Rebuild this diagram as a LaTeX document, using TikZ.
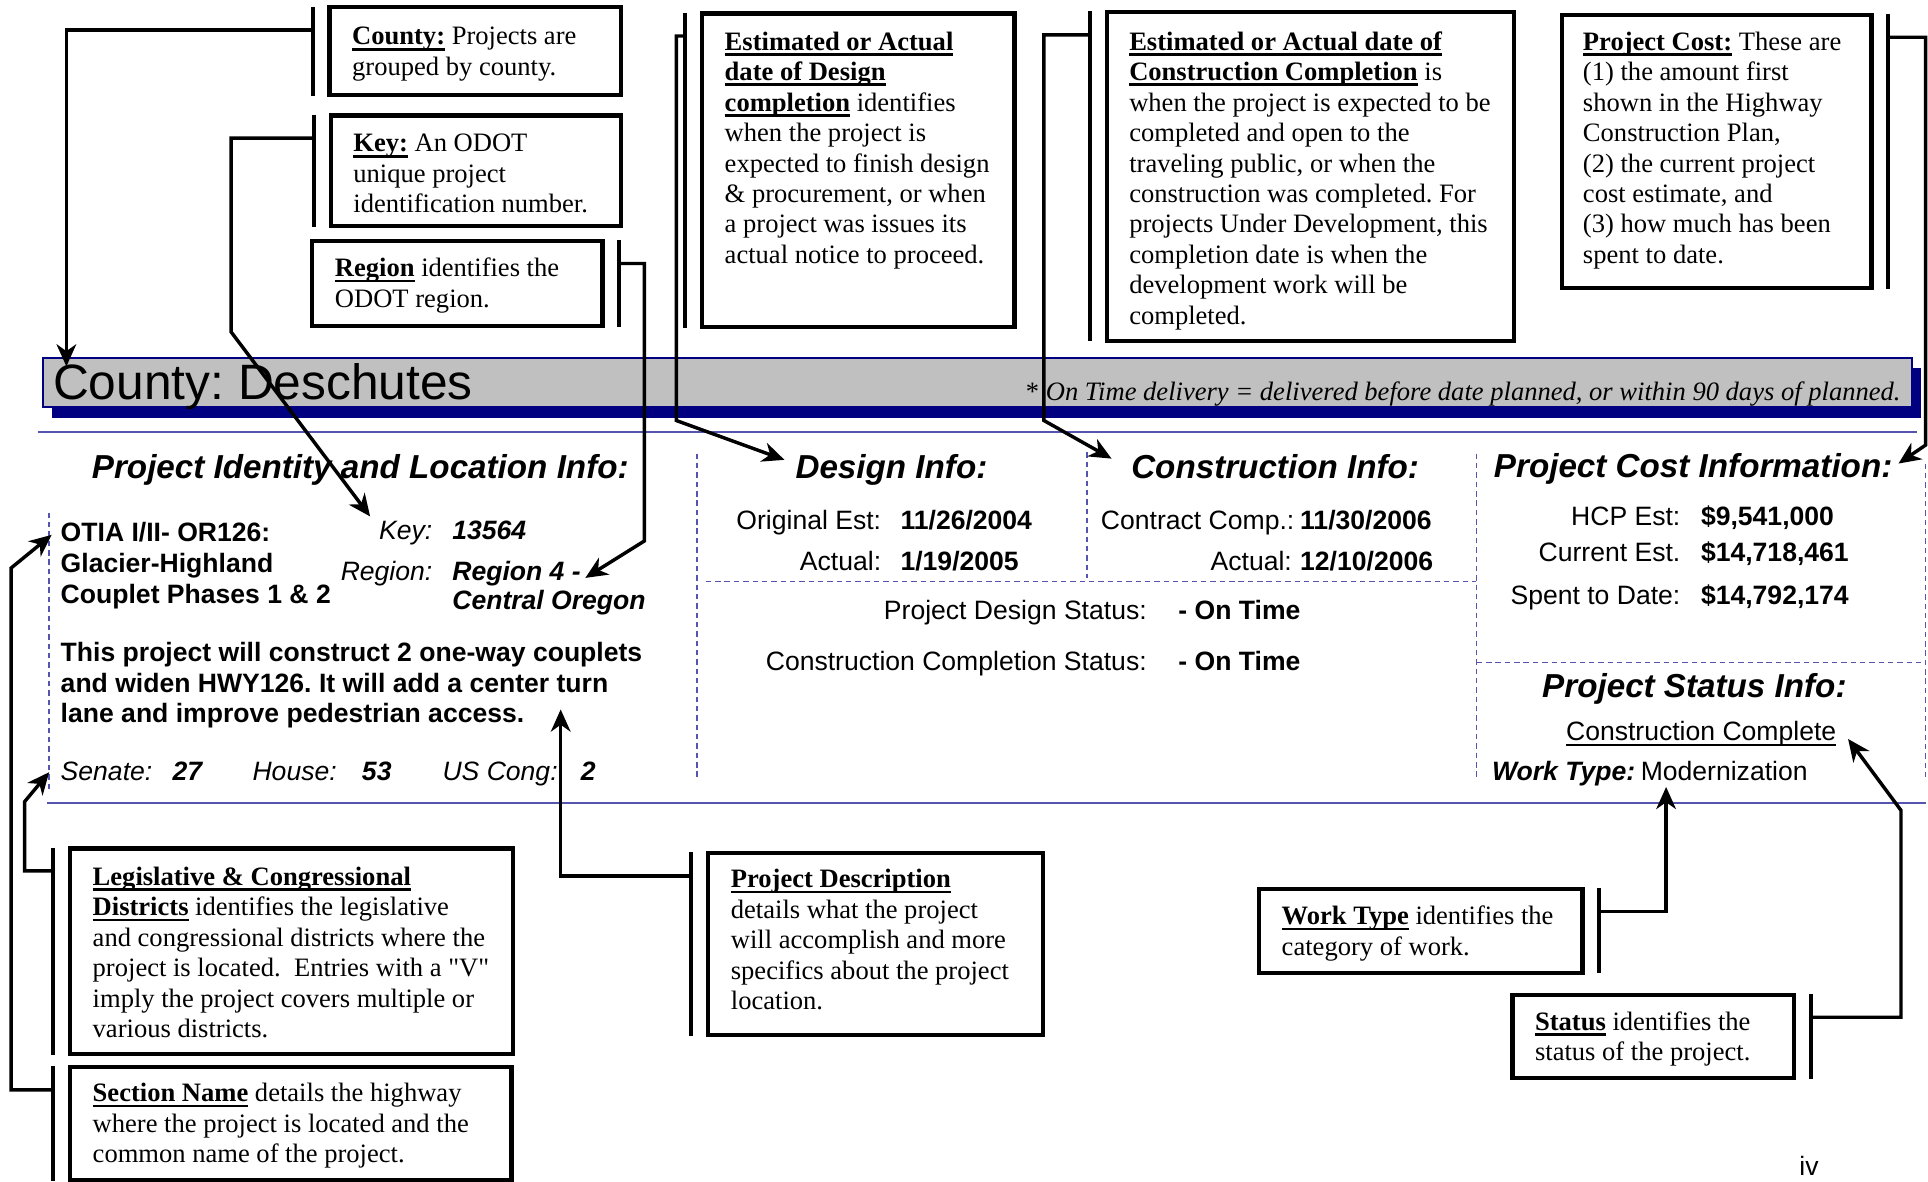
\documentclass[tikz,border=0pt]{standalone}
\usepackage{fontspec}
\setmainfont{Liberation Serif}
\setsansfont{Liberation Sans}
\newfontfamily\rawserif{Liberation Serif}
\usetikzlibrary{fit,arrows.meta}
\definecolor{navy}{RGB}{0,0,128}
\definecolor{bargray}{RGB}{192,192,192}
\definecolor{rulecol}{RGB}{85,85,175}
\newcommand{\bu}[1]{\leavevmode\setbox0=\hbox{\textbf{#1}}\rlap{\rule[-2.3pt]{\wd0}{1.1pt}}\box0\relax}
\newcommand{\thinul}[1]{\leavevmode\setbox0=\hbox{#1}\rlap{\rule[-2.2pt]{\wd0}{0.6pt}}\box0\relax}
\newcommand{\ml}[1]{\begin{tabular}[t]{@{}l@{}}#1\end{tabular}}
\newcommand{\fsz}{\fontsize{10.8}{12.4}\selectfont}
\frenchspacing
\begin{document}
\begin{tikzpicture}[x=0.5pt,y=-0.5pt,
  infobox/.style={draw, line width=1.7pt, inner sep=0pt},
  boxtext/.style={anchor=base west, inner sep=0pt, font=\fsz},
  brk/.style={line width=1.7pt},
  conn/.style={line width=1.4pt, line join=miter, -{Stealth[length=9pt,width=8pt,inset=2.8pt]}},
  sans/.style={inner sep=0pt, font=\sffamily\fontsize{10.8}{12.5}\selectfont},
  lab/.style={sans, anchor=base east},
  val/.style={sans, anchor=base west, font=\sffamily\bfseries\fontsize{10.8}{12.5}\selectfont},
  ilab/.style={sans, anchor=base west, font=\sffamily\itshape\fontsize{10.8}{12.5}\selectfont},
  ival/.style={sans, anchor=base west, font=\sffamily\bfseries\itshape\fontsize{10.8}{12}\selectfont},
  head/.style={inner sep=0pt, anchor=base, font=\sffamily\bfseries\itshape\fontsize{13.5}{16}\selectfont},
  dashline/.style={draw=rulecol, line width=0.6pt, dash pattern=on 2.2pt off 1.6pt}]
\useasboundingbox[fill=white] (0,0) rectangle (1568,961.3);

% ---------- county bar ----------
\node[fit={(42,299)(1562,340)}, fill=navy, inner sep=0pt] (barshadow) {};
\node[fit={(35,291)(1555,331)}, fill=bargray, draw=navy, line width=0.7pt, inner sep=0pt] (bar) {};
\node[anchor=base west, inner sep=0pt, font=\sffamily\fontsize{20.2}{24}\selectfont] (county) at (42.8,325) {County: Deschutes};
\node[anchor=base east, inner sep=0pt, font=\fsz] (ontime) at (1546,325.5) {* \textit{On Time delivery = delivered before date planned, or within 90 days of planned.}};

% ---------- rules ----------
\draw[draw=rulecol, line width=0.9pt] (31,351.5) -- (1559,351.5);
\draw[draw=rulecol, line width=0.9pt] (38,653) -- (1566,653);
\draw[dashline] (40,417) -- (40,642);
\draw[dashline] (567,369) -- (567,632);
\draw[dashline] (884,368) -- (884,470);
\draw[dashline] (574,473) -- (1200,473);
\draw[dashline] (1201,369) -- (1201,632);
\draw[dashline] (1201,539) -- (1566,539);
\draw[dashline] (1566,377) -- (1566,632);

% ---------- headings ----------
\node[head] (hident) at (293,389) {Project Identity and Location Info:};
\node[head] (hdesign) at (725,389) {Design Info:};
\node[head] (hconst) at (1037,389) {Construction Info:};
\node[head] (hcost) at (1377,388) {Project Cost Information:};
\node[head] (hstatus) at (1378,567) {Project Status Info:};

% ---------- identity ----------
\node[val] (secname) at (49,440.5) {\ml{OTIA I/II- OR126:\\Glacier-Highland\\Couplet Phases 1 \& 2}};
\node[sans, anchor=base east, font=\sffamily\itshape\fontsize{10.8}{12.5}\selectfont] (keylab) at (352,439) {Key:};
\node[ival] (keyval) at (367.5,439) {13564};
\node[sans, anchor=base east, font=\sffamily\itshape\fontsize{10.8}{12.5}\selectfont] (reglab) at (352,472) {Region:};
\node[ival] (regval) at (367.5,472) {\ml{Region 4 -\\Central Oregon}};
\node[val] (desc) at (49,538) {\ml{This project will construct 2 one-way couplets\\and widen HWY126. It will add a center turn\\lane and improve pedestrian access.}};
\node[ilab] (senlab) at (49,634.5) {Senate:};
\node[ival] (senval) at (140,634.5) {27};
\node[ilab] (houlab) at (205,634.5) {House:};
\node[ival] (houval) at (294,634.5) {53};
\node[ilab] (uslab) at (359.5,634.5) {US Cong:};
\node[ival] (usval) at (472,634.5) {2};

% ---------- design / construction ----------
\node[lab] (oelab) at (717,431) {Original Est:};
\node[val] (oeval) at (732,431) {11/26/2004};
\node[lab] (dalab) at (717,463.6) {Actual:};
\node[val] (daval) at (732,463.6) {1/19/2005};
\node[sans, anchor=base west] (cclab) at (895,431) {Contract Comp.:};
\node[val] (ccval) at (1057,431) {11/30/2006};
\node[lab] (calab) at (1051,463.6) {Actual:};
\node[val] (caval) at (1057,463.6) {12/10/2006};
\node[lab] (pdslab) at (933,504) {Project Design Status:};
\node[val] (pdsval) at (958,504) {- On Time};
\node[lab] (ccslab) at (933,545) {Construction Completion Status:};
\node[val] (ccsval) at (958,545) {- On Time};

% ---------- cost / status ----------
\node[lab] (hcplab) at (1367,427) {HCP Est:};
\node[val] (hcpval) at (1383,427) {\$9,541,000};
\node[lab] (curlab) at (1367,456.8) {Current Est.};
\node[val] (curval) at (1383,456.8) {\$14,718,461};
\node[lab] (spelab) at (1367,492) {Spent to Date:};
\node[val] (speval) at (1383,492) {\$14,792,174};
\node[sans, anchor=base] (status) at (1383.5,602) {\thinul{Construction Complete}};
\node[ival] (wtlab) at (1213,634.5) {Work Type:};
\node[sans, anchor=base west] (wtval) at (1334,634.5) {Modernization};
\node[sans, anchor=base west] (pageno) at (1463,955.6) {iv};

% ---------- callout boxes ----------
\node[infobox, fit={(268,6)(505,77)}] (countybox) {};
\node[infobox, fit={(269,94)(505,184)}] (keybox) {};
\node[infobox, fit={(254,196)(490,265)}] (regionbox) {};
\node[infobox, fit={(571,11)(825,266)}] (designbox) {};
\node[infobox, fit={(900,10)(1231,277)}] (constbox) {};
\node[infobox, fit={(1270,12)(1522,234)}] (costbox) {};
\node[infobox, fit={(57,690)(417,857)}] (legbox) {};
\node[infobox, fit={(57,868)(416,960)}] (secbox) {};
\node[infobox, fit={(576,694)(848,842)}] (pdbox) {};
\node[infobox, fit={(1024,723)(1287,791)}] (wtbox) {};
\node[infobox, fit={(1230,809)(1459,877)}] (stbox) {};

\node[boxtext] (countytxt) at (286,36.5) {\ml{\bu{County:} Projects are\\grouped by county.}};
\node[boxtext] (keytxt) at (287,123.5) {\ml{\bu{Key:} An ODOT\\unique project\\identification number.}};
\node[boxtext] (regiontxt) at (272,225) {\ml{\bu{Region} identifies the\\ODOT region.}};
\node[boxtext] (designtxt) at (589,40.7) {\ml{\bu{Estimated or Actual}\\\bu{date of Design}\\\bu{completion} identifies\\when the project is\\expected to finish design\\\& procurement, or when\\a project was issues its\\actual notice to proceed.}};
\node[boxtext] (consttxt) at (918,40.7) {\ml{\bu{Estimated or Actual date of}\\\bu{Construction Completion} is\\when the project is expected to be\\completed and open to the\\traveling public, or when the\\construction was completed. For\\projects Under Development, this\\completion date is when the\\development work will be\\completed.}};
\node[boxtext] (costtxt) at (1287,40.7) {\ml{\bu{Project Cost:} These are\\(1) the amount first\\shown in the Highway\\Construction Plan,\\(2) the current project\\cost estimate, and\\(3) how much has been\\spent to date.}};
\node[boxtext] (legtxt) at (75,720) {\ml{\bu{Legislative \& Congressional}\\\bu{Districts} identifies the legislative\\and congressional districts where the\\project is located.\ \ Entries with a {\rawserif"V"}\\imply the project covers multiple or\\various districts.}};
\node[boxtext] (sectxt) at (75,896) {\ml{\bu{Section Name} details the highway\\where the project is located and the\\common name of the project.}};
\node[boxtext] (pdtxt) at (594,722) {\ml{\bu{Project Description}\\details what the project\\will accomplish and more\\specifics about the project\\location.}};
\node[boxtext] (wttxt) at (1042,752) {\ml{\bu{Work Type} identifies the\\category of work.}};
\node[boxtext] (sttxt) at (1248,838) {\ml{\bu{Status} identifies the\\status of the project.}};

% ---------- brackets ----------
\foreach \b in {countybox,keybox,designbox,constbox,legbox,secbox,pdbox}{
  \draw[brk] ([xshift=-6pt,yshift=-0.5pt]\b.north west) -- ([xshift=-6pt,yshift=0.5pt]\b.south west);
  \coordinate (\b-s) at ([xshift=-6pt,yshift=-10pt]\b.north west);
}
\foreach \b in {regionbox,costbox,wtbox,stbox}{
  \draw[brk] ([xshift=6pt,yshift=-0.5pt]\b.north east) -- ([xshift=6pt,yshift=0.5pt]\b.south east);
  \coordinate (\b-s) at ([xshift=6pt,yshift=-10pt]\b.north east);
}

% ---------- connector bends and tips ----------
\coordinate (countyTip) at (54,298);
\coordinate (keyBend) at (188,270);
\coordinate (keyTip) at (301,420);
\coordinate (regBend) at (524,440);
\coordinate (regTip) at (476,470);
\coordinate (desBend) at (550,342);
\coordinate (desTip) at (638,374);
\coordinate (conBend) at (849,342);
\coordinate (conTip) at (904,373);
\coordinate (costBend) at (1566,362);
\coordinate (costTip) at (1544,377);
\coordinate (legBend) at (20,652);
\coordinate (legTip) at (40,628);
\coordinate (secBend) at (9,462);
\coordinate (secTip) at (42,435);
\coordinate (pdTip) at (456,577);
\coordinate (wtTip) at (1355,640);
\coordinate (stBend) at (1546,659);
\coordinate (stTip) at (1503,601);

% ---------- connectors ----------
\draw[conn] (countybox-s) -| (countyTip);
\draw[conn] (keybox-s) -| (keyBend) -- (keyTip);
\draw[conn] (regionbox-s) -| (regBend) -- (regTip);
\draw[conn] (designbox-s) -| (desBend) -- (desTip);
\draw[conn] (constbox-s) -| (conBend) -- (conTip);
\draw[conn] (costbox-s) -| (costBend) -- (costTip);
\draw[conn] (legbox-s) -| (legBend) -- (legTip);
\draw[conn] (secbox-s) -| (secBend) -- (secTip);
\draw[conn] (pdbox-s) -| (pdTip);
\draw[conn] (wtbox-s) -| (wtTip);
\draw[conn] (stbox-s) -| (stBend) -- (stTip);
\end{tikzpicture}
\end{document}
